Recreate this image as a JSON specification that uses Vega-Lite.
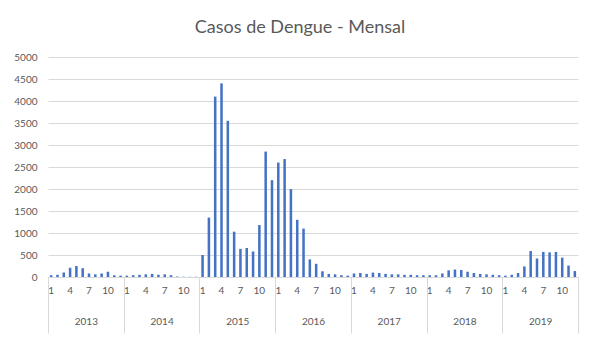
{
  "$schema": "https://vega.github.io/schema/vega-lite/v6.json",
  "autosize": {"type": "none"},
  "width": 530,
  "height": 220,
  "padding": {"left": 48, "top": 57, "right": 20, "bottom": 63},
  "background": "white",
  "title": {
    "text": "Casos de Dengue - Mensal",
    "font": "Lato",
    "fontSize": 18,
    "fontWeight": "normal",
    "color": "#595959",
    "anchor": "middle",
    "dx": -13,
    "offset": 15
  },
  "config": {
    "view": {"stroke": null},
    "axis": {"labelFont": "Lato", "labelColor": "#595959", "labelFontSize": 10}
  },
  "data": {
    "values": [
      {"periodo": "2013-01", "ano": "2013", "casos": 40},
      {"periodo": "2013-02", "ano": "2013", "casos": 50},
      {"periodo": "2013-03", "ano": "2013", "casos": 100},
      {"periodo": "2013-04", "ano": "2013", "casos": 210},
      {"periodo": "2013-05", "ano": "2013", "casos": 250},
      {"periodo": "2013-06", "ano": "2013", "casos": 200},
      {"periodo": "2013-07", "ano": "2013", "casos": 80},
      {"periodo": "2013-08", "ano": "2013", "casos": 60},
      {"periodo": "2013-09", "ano": "2013", "casos": 80},
      {"periodo": "2013-10", "ano": "2013", "casos": 120},
      {"periodo": "2013-11", "ano": "2013", "casos": 40},
      {"periodo": "2013-12", "ano": "2013", "casos": 30},
      {"periodo": "2014-01", "ano": "2014", "casos": 30},
      {"periodo": "2014-02", "ano": "2014", "casos": 40},
      {"periodo": "2014-03", "ano": "2014", "casos": 50},
      {"periodo": "2014-04", "ano": "2014", "casos": 60},
      {"periodo": "2014-05", "ano": "2014", "casos": 70},
      {"periodo": "2014-06", "ano": "2014", "casos": 50},
      {"periodo": "2014-07", "ano": "2014", "casos": 60},
      {"periodo": "2014-08", "ano": "2014", "casos": 40},
      {"periodo": "2014-09", "ano": "2014", "casos": 10},
      {"periodo": "2014-10", "ano": "2014", "casos": 5},
      {"periodo": "2014-11", "ano": "2014", "casos": 5},
      {"periodo": "2014-12", "ano": "2014", "casos": 5},
      {"periodo": "2015-01", "ano": "2015", "casos": 500},
      {"periodo": "2015-02", "ano": "2015", "casos": 1350},
      {"periodo": "2015-03", "ano": "2015", "casos": 4100},
      {"periodo": "2015-04", "ano": "2015", "casos": 4400},
      {"periodo": "2015-05", "ano": "2015", "casos": 3550},
      {"periodo": "2015-06", "ano": "2015", "casos": 1030},
      {"periodo": "2015-07", "ano": "2015", "casos": 640},
      {"periodo": "2015-08", "ano": "2015", "casos": 660},
      {"periodo": "2015-09", "ano": "2015", "casos": 580},
      {"periodo": "2015-10", "ano": "2015", "casos": 1180},
      {"periodo": "2015-11", "ano": "2015", "casos": 2850},
      {"periodo": "2015-12", "ano": "2015", "casos": 2200},
      {"periodo": "2016-01", "ano": "2016", "casos": 2600},
      {"periodo": "2016-02", "ano": "2016", "casos": 2680},
      {"periodo": "2016-03", "ano": "2016", "casos": 2000},
      {"periodo": "2016-04", "ano": "2016", "casos": 1300},
      {"periodo": "2016-05", "ano": "2016", "casos": 1100},
      {"periodo": "2016-06", "ano": "2016", "casos": 400},
      {"periodo": "2016-07", "ano": "2016", "casos": 300},
      {"periodo": "2016-08", "ano": "2016", "casos": 130},
      {"periodo": "2016-09", "ano": "2016", "casos": 70},
      {"periodo": "2016-10", "ano": "2016", "casos": 60},
      {"periodo": "2016-11", "ano": "2016", "casos": 40},
      {"periodo": "2016-12", "ano": "2016", "casos": 30},
      {"periodo": "2017-01", "ano": "2017", "casos": 80},
      {"periodo": "2017-02", "ano": "2017", "casos": 90},
      {"periodo": "2017-03", "ano": "2017", "casos": 70},
      {"periodo": "2017-04", "ano": "2017", "casos": 100},
      {"periodo": "2017-05", "ano": "2017", "casos": 90},
      {"periodo": "2017-06", "ano": "2017", "casos": 70},
      {"periodo": "2017-07", "ano": "2017", "casos": 60},
      {"periodo": "2017-08", "ano": "2017", "casos": 60},
      {"periodo": "2017-09", "ano": "2017", "casos": 50},
      {"periodo": "2017-10", "ano": "2017", "casos": 50},
      {"periodo": "2017-11", "ano": "2017", "casos": 40},
      {"periodo": "2017-12", "ano": "2017", "casos": 40},
      {"periodo": "2018-01", "ano": "2018", "casos": 40},
      {"periodo": "2018-02", "ano": "2018", "casos": 40},
      {"periodo": "2018-03", "ano": "2018", "casos": 80},
      {"periodo": "2018-04", "ano": "2018", "casos": 150},
      {"periodo": "2018-05", "ano": "2018", "casos": 170},
      {"periodo": "2018-06", "ano": "2018", "casos": 160},
      {"periodo": "2018-07", "ano": "2018", "casos": 120},
      {"periodo": "2018-08", "ano": "2018", "casos": 90},
      {"periodo": "2018-09", "ano": "2018", "casos": 70},
      {"periodo": "2018-10", "ano": "2018", "casos": 60},
      {"periodo": "2018-11", "ano": "2018", "casos": 50},
      {"periodo": "2018-12", "ano": "2018", "casos": 40},
      {"periodo": "2019-01", "ano": "2019", "casos": 30},
      {"periodo": "2019-02", "ano": "2019", "casos": 50},
      {"periodo": "2019-03", "ano": "2019", "casos": 90},
      {"periodo": "2019-04", "ano": "2019", "casos": 240},
      {"periodo": "2019-05", "ano": "2019", "casos": 590},
      {"periodo": "2019-06", "ano": "2019", "casos": 420},
      {"periodo": "2019-07", "ano": "2019", "casos": 570},
      {"periodo": "2019-08", "ano": "2019", "casos": 560},
      {"periodo": "2019-09", "ano": "2019", "casos": 570},
      {"periodo": "2019-10", "ano": "2019", "casos": 440},
      {"periodo": "2019-11", "ano": "2019", "casos": 260},
      {"periodo": "2019-12", "ano": "2019", "casos": 135}
    ]
  },
  "layer": [
    {
      "mark": {"type": "bar", "color": "#4472C4"},
      "encoding": {
        "x": {
          "field": "periodo",
          "type": "ordinal",
          "sort": null,
          "scale": {"paddingInner": 0.6, "paddingOuter": 0.3},
          "axis": {
            "title": null,
            "labelAngle": 0,
            "ticks": false,
            "domain": true,
            "domainColor": "#d9d9d9",
            "labelOverlap": false,
            "labelPadding": 8,
            "labelExpr": "indexof(['01','04','07','10'], slice(datum.value, 5)) >= 0 ? toString(toNumber(slice(datum.value, 5))) : ''"
          }
        },
        "y": {
          "field": "casos",
          "type": "quantitative",
          "scale": {"domain": [0, 5000], "nice": false},
          "axis": {
            "title": null,
            "format": "d",
            "values": [0, 500, 1000, 1500, 2000, 2500, 3000, 3500, 4000, 4500, 5000],
            "domain": false,
            "ticks": false,
            "gridColor": "#d9d9d9",
            "labelPadding": 11
          }
        }
      }
    },
    {
      "mark": {"type": "point", "opacity": 0},
      "encoding": {
        "x": {
          "field": "ano",
          "type": "ordinal",
          "scale": {"paddingInner": 0, "paddingOuter": 0},
          "axis": {
            "title": null,
            "orient": "bottom",
            "labelAngle": 0,
            "domain": false,
            "grid": false,
            "tickBand": "extent",
            "tickSize": 56,
            "tickColor": "#d9d9d9",
            "labelPadding": -17
          }
        }
      }
    }
  ],
  "resolve": {"scale": {"x": "independent"}, "axis": {"x": "independent"}}
}
